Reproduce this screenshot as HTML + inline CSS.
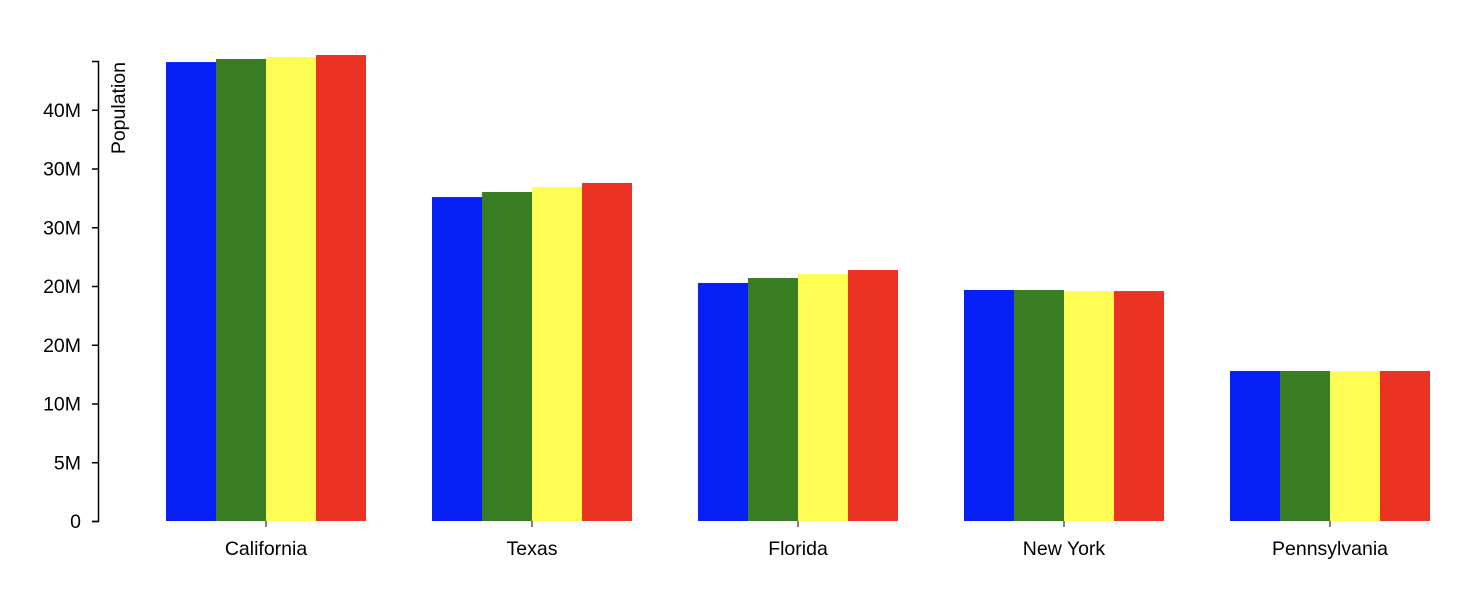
<!DOCTYPE html>
<html><head><meta charset="utf-8"><style>
body{margin:0;background:#fff;}
svg{display:block;font-family:"Liberation Sans",Arial,sans-serif;}
</style></head><body>
<svg id="chart" width="1482" height="590"></svg>
<script>
const categories = ["California","Texas","Florida","New York","Pennsylvania"];
const series1 = [39.06, 27.57, 20.26, 19.66, 12.77];
const series2 = [39.32, 28.00, 20.68, 19.66, 12.77];
const series3 = [39.49, 28.43, 21.02, 19.57, 12.75];
const series4 = [39.66, 28.77, 21.36, 19.57, 12.77];
const tickValues = [0,5,10,15,20,25,30,35];
const tickLabels = ["0","5M","10M","20M","20M","30M","30M","40M"];
const colors = ["#0521f5","#387d22","#fffd54","#ea3323"];

const NS="http://www.w3.org/2000/svg";
const svg=document.getElementById('chart');
const y0=521, y1=61, yMax=39.15;
const y=v=>y0-(v/yMax)*(y0-y1);
const groupStart=166, groupStep=266, barW=50;
const FS=19.5;
function mk(t,a){const e=document.createElementNS(NS,t);for(const k in a)e.setAttribute(k,a[k]);svg.appendChild(e);return e;}

const all=[series1,series2,series3,series4];
categories.forEach((c,i)=>{
  all.forEach((s,j)=>{
    const r=mk('rect',{x:groupStart+i*groupStep+j*barW,y:y(s[i]),width:barW,height:y0-y(s[i]),fill:colors[j]});
    
    
  });
  const cx=groupStart+i*groupStep+2*barW;
  const t=mk('line',{x1:cx,x2:cx,y1:y0,y2:y0+6,stroke:'#000'});
  
  
  const l=mk('text',{x:cx,y:y0+34,'text-anchor':'middle','font-size':FS});
  l.textContent=c;
  
  
});
const ax=mk('path',{d:`M92,${y1+0.5}H98.5V${y0+0.5}H92`,fill:'none',stroke:'#000','stroke-width':1.5});


tickValues.forEach((v,i)=>{
  const t=mk('line',{x1:92,x2:98,y1:y(v)+0.5,y2:y(v)+0.5,stroke:'#000','stroke-width':1.5});
  
  
  const l=mk('text',{x:81,y:y(v)+7,'text-anchor':'end','font-size':FS});
  l.textContent=tickLabels[i];
  
  
});
const yt=mk('text',{transform:'translate(125,62) rotate(-90)','text-anchor':'end','font-size':FS});
yt.textContent='Population';


</script>
</body></html>
